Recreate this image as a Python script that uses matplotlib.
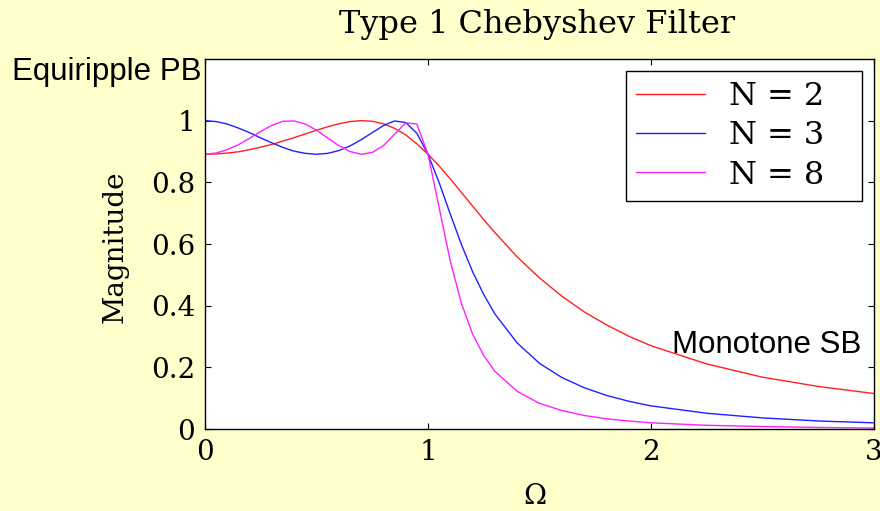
import matplotlib
matplotlib.use("Agg")
import matplotlib.pyplot as plt

# frequency samples (rad/s, normalised)
omega = [0.0, 0.05, 0.1, 0.15, 0.2, 0.25, 0.3, 0.35, 0.4, 0.45, 0.5,
         0.55, 0.6, 0.65, 0.7, 0.75, 0.8, 0.85, 0.9, 0.95, 1.0,
         1.05, 1.1, 1.15, 1.2, 1.25, 1.3, 1.4, 1.5, 1.6, 1.7, 1.8, 1.9,
         2.0, 2.25, 2.5, 2.75, 3.0]

mag_n2 = [0.891, 0.892, 0.895, 0.899, 0.906, 0.914, 0.923, 0.934, 0.945, 0.957, 0.969,
          0.980, 0.990, 0.997, 1.000, 0.998, 0.990, 0.975, 0.954, 0.925, 0.891,
          0.853, 0.811, 0.767, 0.723, 0.679, 0.637, 0.558, 0.490, 0.431, 0.380, 0.338, 0.301,
          0.270, 0.211, 0.168, 0.138, 0.115]

mag_n3 = [1.000, 0.997, 0.989, 0.976, 0.961, 0.944, 0.928, 0.913, 0.901, 0.894, 0.891,
          0.894, 0.903, 0.918, 0.938, 0.961, 0.984, 0.999, 0.994, 0.959, 0.891,
          0.799, 0.697, 0.598, 0.510, 0.436, 0.373, 0.279, 0.213, 0.167, 0.134, 0.109, 0.090,
          0.075, 0.051, 0.036, 0.026, 0.020]

mag_n8 = [0.891, 0.895, 0.906, 0.922, 0.943, 0.965, 0.985, 0.998, 0.999, 0.989, 0.969,
          0.944, 0.919, 0.900, 0.891, 0.897, 0.919, 0.956, 0.993, 0.989, 0.891,
          0.718, 0.544, 0.407, 0.308, 0.238, 0.187, 0.122, 0.083, 0.060, 0.044, 0.033, 0.026,
          0.020, 0.012, 0.008, 0.005, 0.003]

labels = ["N = 2", "N = 3", "N = 8"]
colors = ["#ff2020", "#2020ff", "#ff20ff"]
xticks = [0, 1, 2, 3]
yticks = [0, 0.2, 0.4, 0.6, 0.8, 1.0]
ytick_labels = ["0", "0.2", "0.4", "0.6", "0.8", "1"]

serif = "DejaVu Serif"
sans = "Liberation Sans"
W, H = 880, 511

fig = plt.figure(figsize=(W / 100, H / 100), dpi=100)
fig.patch.set_facecolor("#ffffcc")
ax = fig.add_axes([205 / W, 1 - 429 / H, (874 - 205) / W, (429 - 59) / H])
ax.set_facecolor("white")

for ys, lab, c in zip([mag_n2, mag_n3, mag_n8], labels, colors):
    ax.plot(omega, ys, color=c, lw=1.0, label=lab)

ax.set_xlim(0, 3)
ax.set_ylim(0, 1.2)
ax.set_xticks(xticks)
ax.set_xticklabels([str(t) for t in xticks], family=serif, fontsize=20)
ax.set_yticks(yticks)
ax.set_yticklabels(ytick_labels, family=serif, fontsize=20)
ax.tick_params(direction="in", length=4.5, width=0.8, top=True, right=True, colors="black")
ax.tick_params(axis="x", pad=7)
ax.tick_params(axis="y", pad=7)
for sp in ax.spines.values():
    sp.set_linewidth(1.0)
    sp.set_color("black")

# legend box stretched to the reference width (text stays left, extra room on the right)
lx0 = (626 - 205) / (874 - 205)
lx1 = (862 - 205) / (874 - 205)
leg = ax.legend(loc="upper left", bbox_to_anchor=(lx0, 0.5, lx1 - lx0, 0.468),
                mode="expand", prop={"family": serif, "size": 23}, frameon=True,
                fancybox=False, edgecolor="black", framealpha=1, handlelength=2.15,
                handletextpad=0.75, labelspacing=0.26, borderpad=0.32,
                borderaxespad=0)
leg.get_frame().set_linewidth(1.0)

fig.text(537 / W, 1 - 33 / H, "Type 1 Chebyshev Filter", family=serif,
         fontsize=23, ha="center", va="baseline")
fig.text(115 / W, 1 - 246.5 / H, "Magnitude", family=serif, fontsize=20,
         rotation=90, ha="center", va="center")
fig.text(535 / W, 1 - 504 / H, "Ω", family=serif, fontsize=20, ha="center", va="baseline")

fig.text(12 / W, 1 - 80 / H, "Equiripple PB", family=sans, fontsize=22.5,
         ha="left", va="baseline")
fig.text(672 / W, 1 - 353 / H, "Monotone SB", family=sans, fontsize=22.5,
         ha="left", va="baseline")

fig.savefig("out.png", dpi=100, facecolor=fig.get_facecolor())
